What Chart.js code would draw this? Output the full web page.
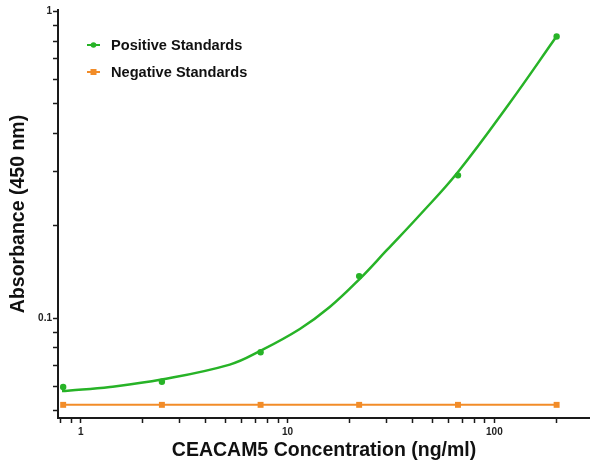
<!DOCTYPE html>
<html>
<head>
<meta charset="utf-8">
<script src="https://cdn.jsdelivr.net/npm/chart.js@4/dist/chart.umd.min.js"></script>
<style>
  html, body { margin: 0; padding: 0; background: #fff; }
  #wrap { width: 590px; height: 465px; position: relative; }
</style>
</head>
<body>
<div id="wrap"><canvas id="chart"></canvas></div>
<script>
// Nồng độ chuẩn (ng/ml) - pha loãng 1:3
const concentrations = [0.823, 2.47, 7.41, 22.2, 66.7, 200];
const positiveValues = [0.0596, 0.062, 0.0773, 0.137, 0.292, 0.829];
const negativeValues = [0.0521, 0.0521, 0.0521, 0.0521, 0.0521, 0.0521];

// Đường cong fit
const curveX = [0.812, 0.888, 1.385, 2.46, 5.26, 7.35, 11.47, 16.0, 22.3, 30.1, 43.6, 66.7, 118.6, 200];
const curveY = [0.0578, 0.058, 0.0596, 0.063, 0.0705, 0.078, 0.0921, 0.1086, 0.134, 0.1661, 0.2168, 0.2995, 0.503, 0.83];

// Vạch chia trục
const xTicks = [0.8, 0.9, 1, 2, 3, 4, 5, 6, 7, 8, 9, 10, 20, 30, 40, 50, 60, 70, 80, 90, 100, 200];
const xLabels = [1, 10, 100];
const yTicks = [0.05, 0.06, 0.07, 0.08, 0.09, 0.1, 0.2, 0.3, 0.4, 0.5, 0.6, 0.7, 0.8, 0.9, 1];
const yLabels = [0.1, 1];

const legendItems = ['Positive Standards', 'Negative Standards'];

const GREEN = '#27b327';
const ORANGE = '#f28c28';
const AXIS = '#1a1a1a';

const toPoints = (xs, ys) => xs.map((x, i) => ({ x: x, y: ys[i] }));

// Legend vẽ tay bên trong vùng biểu đồ
const insideLegend = {
    id: 'insideLegend',
    afterDraw(chart) {
        const ctx = chart.ctx;
        const rows = [
            { text: legendItems[0], color: GREEN, style: 'circle', y: 45 },
            { text: legendItems[1], color: ORANGE, style: 'rect', y: 72 }
        ];
        ctx.save();
        rows.forEach(r => {
            ctx.strokeStyle = r.color;
            ctx.fillStyle = r.color;
            ctx.lineWidth = 2;
            ctx.beginPath();
            ctx.moveTo(87, r.y);
            ctx.lineTo(100, r.y);
            ctx.stroke();
            if (r.style === 'circle') {
                ctx.beginPath();
                ctx.arc(93.5, r.y, 2.8, 0, Math.PI * 2);
                ctx.fill();
            } else {
                ctx.fillRect(90.5, r.y - 3, 6, 6);
            }
            ctx.fillStyle = '#111';
            ctx.font = 'bold 14.6px "Liberation Sans", Arial, sans-serif';
            ctx.textBaseline = 'middle';
            ctx.fillText(r.text, 111, r.y + 1);
        });
        ctx.restore();
    }
};

new Chart(document.getElementById('chart'), {
    type: 'scatter',
    data: {
        datasets: [
            {
                label: 'fit',
                data: toPoints(curveX, curveY),
                showLine: true,
                borderColor: GREEN,
                borderWidth: 2.5,
                pointRadius: 0,
                tension: 0.4,
                fill: false
            },
            {
                label: legendItems[0],
                data: toPoints(concentrations, positiveValues),
                showLine: false,
                pointStyle: 'circle',
                pointRadius: 3.2,
                pointBackgroundColor: GREEN,
                pointBorderColor: GREEN,
                pointBorderWidth: 0
            },
            {
                label: legendItems[1],
                data: toPoints(concentrations, negativeValues),
                showLine: true,
                borderColor: ORANGE,
                borderWidth: 2,
                pointStyle: 'rect',
                pointRadius: 4.2,
                pointBackgroundColor: ORANGE,
                pointBorderColor: ORANGE,
                pointBorderWidth: 0
            }
        ]
    },
    options: {
        responsive: true,
        maintainAspectRatio: false,
        animation: false,
        layout: { autoPadding: false, padding: { top: 10, right: 0, bottom: 0, left: 0 } },
        plugins: {
            legend: { display: false },
            tooltip: { enabled: false }
        },
        scales: {
            x: {
                type: 'logarithmic',
                min: 0.777,
                max: 290,
                border: { color: AXIS, width: 2 },
                grid: { drawOnChartArea: false, drawTicks: true, tickLength: 5, tickColor: AXIS, tickWidth: 1.5 },
                afterBuildTicks: scale => { scale.ticks = xTicks.map(v => ({ value: v })); },
                afterFit: scale => {
                    scale.height = 47;
                    scale.paddingLeft = 0; scale.paddingRight = 0;
                },
                ticks: {
                    autoSkip: false,
                    maxRotation: 0,
                    padding: 3,
                    color: '#222',
                    font: { family: '"Liberation Sans", Arial, sans-serif', size: 10, weight: 'bold' },
                    callback: value => xLabels.includes(value) ? String(value) : ''
                },
                title: {
                    display: true,
                    text: 'CEACAM5 Concentration (ng/ml)',
                    color: '#111',
                    padding: { top: 0, bottom: 3 },
                    font: { family: '"Liberation Sans", Arial, sans-serif', size: 19.5, weight: 'bold' }
                }
            },
            y: {
                type: 'logarithmic',
                min: 0.0472,
                max: 1.011,
                border: { color: AXIS, width: 2 },
                grid: { drawOnChartArea: false, drawTicks: true, tickLength: 5, tickColor: AXIS, tickWidth: 1.5 },
                afterBuildTicks: scale => { scale.ticks = yTicks.map(v => ({ value: v })); },
                afterFit: scale => {
                    scale.width = 58;
                    scale.paddingTop = 0; scale.paddingBottom = 0;
                },
                ticks: {
                    autoSkip: false,
                    padding: 1,
                    color: '#222',
                    font: { family: '"Liberation Sans", Arial, sans-serif', size: 10, weight: 'bold' },
                    callback: value => yLabels.includes(value) ? String(value) : ''
                },
                title: {
                    display: true,
                    text: 'Absorbance (450 nm)',
                    color: '#111',
                    padding: { top: 7, bottom: 0 },
                    font: { family: '"Liberation Sans", Arial, sans-serif', size: 19.5, weight: 'bold' }
                }
            }
        }
    },
    plugins: [insideLegend]
});
</script>
</body>
</html>
